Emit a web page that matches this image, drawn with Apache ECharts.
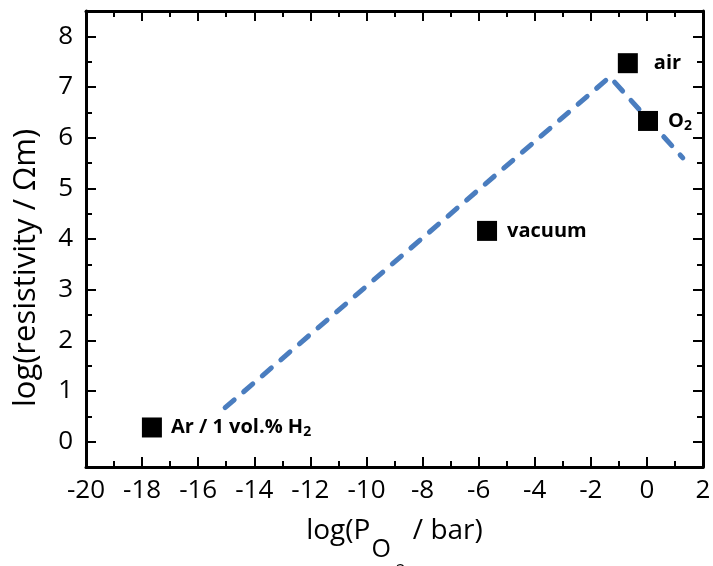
<!DOCTYPE html>
<html>
<head>
<meta charset="utf-8">
<script src="https://cdn.jsdelivr.net/npm/echarts@6/dist/echarts.min.js"></script>
<style>
  html, body { margin: 0; padding: 0; background: #fff; }
  #chart { width: 713px; height: 566px; }
</style>
</head>
<body>
<div id="chart"></div>
<script>
// Measured resistivity for each atmosphere
const atmospheres = ['Ar / 1 vol.% H{sub|2}', 'vacuum', 'air', 'O{sub|2}'];
const logPO2 = [-17.65, -5.7, -0.68, 0.04];
const logResistivity = [0.28, 4.16, 7.47, 6.33];
const labelGap = [9, 10, 16, 10];

// Guide line (dashed trend)
const trendX = [-15.04, -1.32, 1.28];
const trendY = [0.67, 7.2, 5.6];

// Axis ranges and ticks
const xMin = -20, xMax = 2, xStep = 2;
const yMin = -0.5, yMax = 8.5, yMinorStep = 0.5;
const yTicks = [0, 1, 2, 3, 4, 5, 6, 7, 8];

const font = '"Open Sans", "DejaVu Sans", sans-serif';
const chart = echarts.init(document.getElementById('chart'), null, { renderer: 'canvas' });

const axisLineStyle = { color: '#000', width: 3 };
const majorTick = { show: true, inside: true, length: 10, lineStyle: { width: 2, color: '#000' } };
const minorTickStyle = { show: true, length: 6, lineStyle: { width: 2, color: '#000' } };

const pointData = logPO2.map((x, i) => ({
  value: [x, logResistivity[i]],
  label: {
    show: true,
    position: 'right',
    distance: labelGap[i],
    formatter: atmospheres[i],
    fontFamily: font,
    fontWeight: 'bold',
    fontSize: 20,
    color: '#000',
    rich: {
      sub: { fontSize: 14, fontWeight: 'bold', fontFamily: font, color: '#000', verticalAlign: 'bottom', padding: [10, 0, 0, 0] }
    }
  }
}));

// horizontal axis (bottom with labels, top mirrored)
function xAxisDef(position, withLabels) {
  return {
    type: 'value', min: xMin, max: xMax, interval: xStep, position: position,
    axisLine: { show: true, onZero: false, lineStyle: axisLineStyle },
    axisTick: majorTick,
    minorTick: Object.assign({ splitNumber: 2 }, minorTickStyle),
    splitLine: { show: false },
    axisLabel: withLabels
      ? { fontFamily: font, fontSize: 26, color: '#000', margin: 11 }
      : { show: false }
  };
}

// vertical axis: major ticks at integers, minor ticks every half unit
function yMajorAxis(position, withLabels) {
  return {
    type: 'value', min: yMin, max: yMax, interval: yMinorStep, position: position,
    axisLine: { show: true, onZero: false, lineStyle: axisLineStyle },
    axisTick: Object.assign({ customValues: yTicks }, majorTick),
    splitLine: { show: false },
    axisLabel: withLabels
      ? { customValues: yTicks, fontFamily: font, fontSize: 26, color: '#000', margin: 13 }
      : { show: false }
  };
}
function yMinorAxis(position) {
  return {
    type: 'value', min: yMin, max: yMax, interval: yMinorStep, position: position,
    axisLine: { show: false, onZero: false },
    axisTick: Object.assign({ inside: true }, minorTickStyle),
    splitLine: { show: false },
    axisLabel: { show: false }
  };
}

const xBottom = xAxisDef('bottom', true);
xBottom.name = '{a|log(P}{o|O}{s|2}{a| / bar)}';
xBottom.nameLocation = 'middle';
xBottom.nameGap = 50;
xBottom.nameTextStyle = {
  fontFamily: font, fontSize: 28, color: '#000',
  rich: {
    a: { fontFamily: font, fontSize: 28, color: '#000', verticalAlign: 'top' },
    o: { fontFamily: font, fontSize: 25, color: '#000', verticalAlign: 'top', padding: [20, 0, 0, 1] },
    s: { fontFamily: font, fontSize: 17, color: '#000', verticalAlign: 'top', padding: [46, 0, 0, 5] }
  }
};

const yLeft = yMajorAxis('left', true);
yLeft.name = 'log(resistivity / Ωm)';
yLeft.nameLocation = 'middle';
yLeft.nameGap = 44;
yLeft.nameTextStyle = { fontFamily: font, fontSize: 31, color: '#000', padding: [0, 58, 0, 0] };

const option = {
  animation: false,
  backgroundColor: '#fff',
  grid: { left: 86, right: 10, top: 11, bottom: 99, containLabel: false, outerBoundsMode: 'none' },
  xAxis: [xBottom, xAxisDef('top', false)],
  yAxis: [yLeft, yMajorAxis('right', false), yMinorAxis('left'), yMinorAxis('right')],
  series: [
    {
      type: 'line',
      xAxisIndex: 0, yAxisIndex: 0,
      data: trendX.map((x, i) => [x, trendY[i]]),
      showSymbol: false,
      symbol: 'none',
      lineStyle: { color: '#4a7dbf', width: 5, type: [12, 12.5], cap: 'round', join: 'round' },
      z: 2
    },
    {
      type: 'scatter',
      xAxisIndex: 0, yAxisIndex: 0,
      data: pointData,
      symbol: 'rect',
      symbolSize: 20,
      itemStyle: { color: '#000', opacity: 1 },
      z: 3
    }
  ]
};

chart.setOption(option);
</script>
</body>
</html>
